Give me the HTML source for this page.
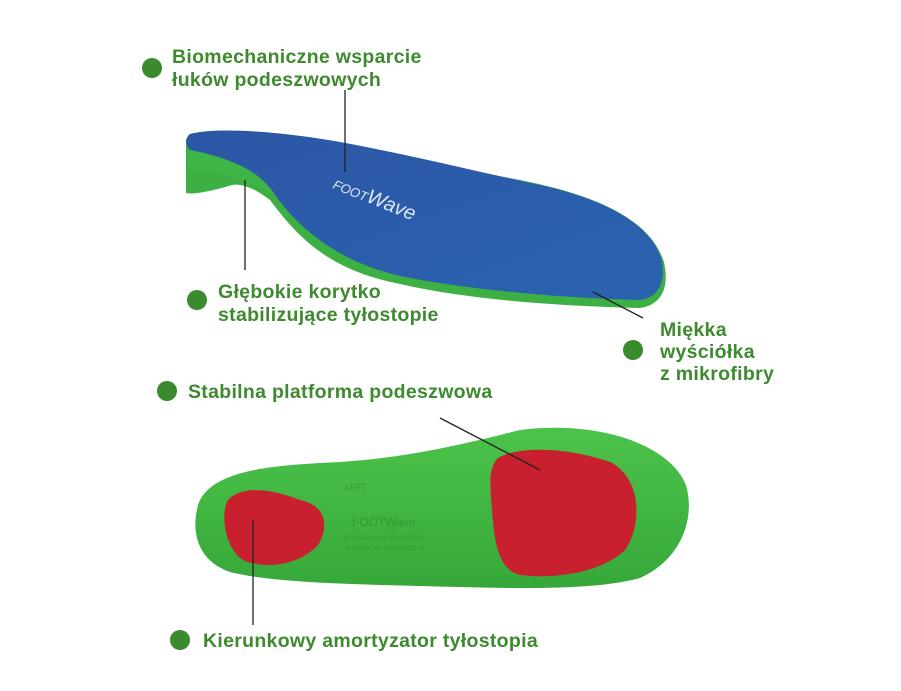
<!DOCTYPE html>
<html><head><meta charset="utf-8"><style>
body{margin:0;background:#fff;width:901px;height:686px;overflow:hidden}
</style></head><body>
<svg width="901" height="686" viewBox="0 0 901 686" xmlns="http://www.w3.org/2000/svg" font-family="Liberation Sans, sans-serif">
<defs>
<linearGradient id="bl" x1="0" y1="0" x2="1" y2="1"><stop offset="0" stop-color="#2c56a6"/><stop offset="1" stop-color="#2a63b0"/></linearGradient>
<linearGradient id="gr" x1="0" y1="0" x2="0" y2="1"><stop offset="0" stop-color="#4cc34a"/><stop offset="1" stop-color="#36a83a"/></linearGradient>
</defs>
<path d="M186,140 C188,128 230,128 300,138 C380,148 440,165 520,180 C600,196 650,220 664,262 C670,290 660,305 640,308 C560,306 470,300 400,284 C330,270 300,240 270,200 C255,188 240,183 232,185 C215,190 195,195 186,193 Z" fill="#3cb043"/>
<path d="M190,134 C220,126 290,133 340,142 C410,155 470,170 540,185 C610,200 655,228 662,262 C666,285 656,298 640,300 C560,298 470,290 400,276 C340,262 300,230 275,195 C262,175 240,160 190,150 C185,145 185,138 190,134 Z" fill="url(#bl)"/>
<path d="M190,150 C240,160 262,175 275,195 C250,180 220,172 188,170 Z" fill="#3fb548"/>
<text x="332" y="188" fill="#dfe8f5" font-size="13" font-style="italic" transform="rotate(22 332 188)">FOOT<tspan font-size="20">Wave</tspan></text>
<path d="M198,505 C210,468 280,465 340,462 C400,458 450,448 520,430 C600,420 670,445 686,485 C696,520 680,560 640,578 C590,592 500,588 420,586 C340,584 270,582 230,572 C200,562 190,535 198,505 Z" fill="url(#gr)"/>
<path d="M228,500 C243,484 275,490 300,500 C325,505 330,525 318,545 C300,565 265,570 243,560 C225,548 220,515 228,500 Z" fill="#c8202e"/>
<path d="M498,458 C520,445 570,448 610,462 C645,480 640,530 625,550 C605,570 560,580 520,575 C498,570 494,540 492,510 C490,485 488,468 498,458 Z" fill="#c8202e"/>
<text x="345" y="490" fill="#2f9a34" font-size="9">LEFT</text>
<text x="352" y="526" fill="#2f9a34" font-size="12">FOOTWave</text>
<text x="342" y="540" fill="#2f9a34" font-size="6">ORTHOTICS DEVELOPED BY</text>
<text x="345" y="550" fill="#2f9a34" font-size="6">AUSTRALIAN PODIATRISTS</text>
<g stroke="#222" stroke-width="1.3">
<line x1="345" y1="90" x2="345" y2="172"/>
<line x1="245" y1="180" x2="245" y2="270"/>
<line x1="593" y1="292" x2="643" y2="318"/>
<line x1="440" y1="418" x2="540" y2="470"/>
<line x1="253" y1="520" x2="253" y2="625"/>
</g>
<g fill="#3a8a2e">
<circle cx="152" cy="68" r="10"/><circle cx="197" cy="300" r="10"/><circle cx="633" cy="350" r="10"/><circle cx="167" cy="391" r="10"/><circle cx="180" cy="640" r="10"/>
</g>
<g fill="#3d8a2f" font-size="19.5" font-weight="bold" letter-spacing="0.3">
<text x="172" y="63">Biomechaniczne wsparcie</text>
<text x="172" y="86">łuków podeszwowych</text>
<text x="218" y="298">Głębokie korytko</text>
<text x="218" y="321">stabilizujące tyłostopie</text>
<text x="660" y="336">Miękka</text>
<text x="660" y="358">wyściółka</text>
<text x="660" y="380">z mikrofibry</text>
<text x="188" y="398">Stabilna platforma podeszwowa</text>
<text x="203" y="647">Kierunkowy amortyzator tyłostopia</text>
</g>
</svg>
</body></html>
